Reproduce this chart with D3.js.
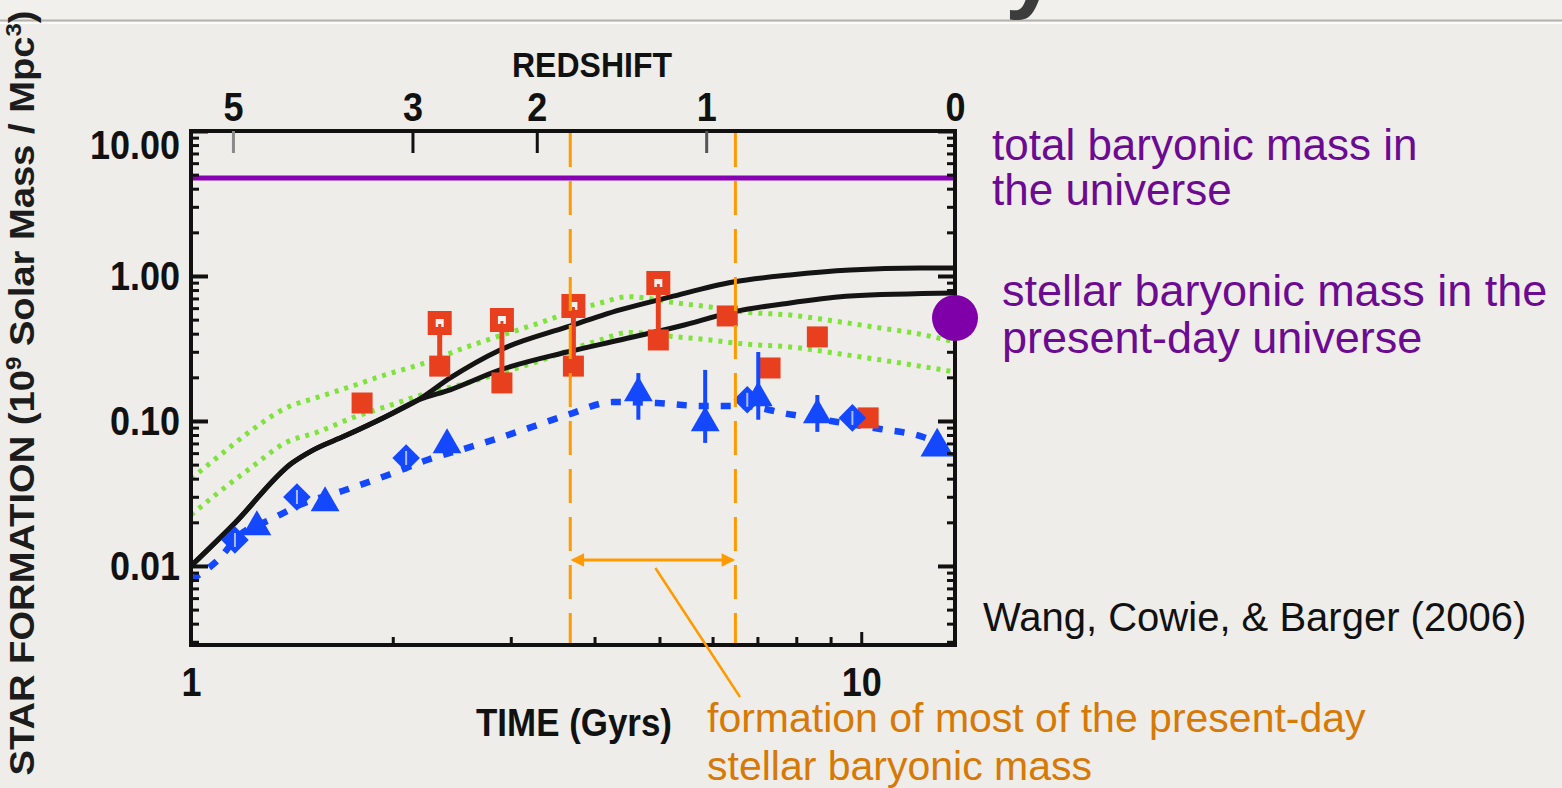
<!DOCTYPE html>
<html><head><meta charset="utf-8">
<script src="https://cdn.jsdelivr.net/npm/d3@7"></script>
<style>
html,body{margin:0;padding:0;background:#eeede9;}
svg{display:block;}
</style></head>
<body>
<svg id="chart" width="1562" height="788"></svg>
<script>
// ================= DATA =================
const timeDomain = [1, 13.8];          // Gyr
const massDomain = [0.00285, 10];      // 10^9 Msun / Mpc^3
const massTickValues = [0.01, 0.1, 1, 10];
const timeTickValues = [1, 10];
const redshiftLabels = ["5", "3", "2", "1", "0"];
const redshiftTimes = [1.155, 2.14, 3.28, 5.87, 13.8];

// black model curves [time, value]
const blackUpper = [[1.0,0.0100],[1.163,0.0198],[1.415,0.0513],[1.516,0.0625],[1.698,0.0790],[1.948,0.1066],[2.183,0.1396],[2.436,0.198],[2.892,0.309],[3.64,0.445],[4.365,0.583],[5.19,0.717],[6.44,0.909],[7.83,1.016],[9.63,1.10],[12.25,1.135],[13.8,1.135]];
const blackLower = [[1.0,0.0100],[1.163,0.0198],[1.415,0.0513],[1.516,0.0625],[1.698,0.0790],[1.948,0.1066],[2.183,0.1396],[2.436,0.164],[2.892,0.225],[3.64,0.299],[4.365,0.362],[5.37,0.452],[6.44,0.565],[7.83,0.652],[9.63,0.728],[13.8,0.763]];
// green dotted curves
const greenUpper = [[1.0,0.040],[1.097,0.0565],[1.233,0.0867],[1.381,0.122],[1.547,0.146],[1.739,0.174],[1.948,0.208],[2.183,0.243],[2.58,0.324],[3.24,0.459],[4.08,0.651],[4.5,0.72],[5.31,0.651],[5.95,0.611],[6.67,0.565],[7.83,0.538],[9.53,0.474],[10.67,0.438],[11.96,0.405],[13.8,0.351]];
const greenLower = [[1.0,0.0225],[1.097,0.0319],[1.233,0.0482],[1.381,0.0705],[1.547,0.0840],[1.739,0.105],[1.948,0.125],[2.183,0.149],[2.58,0.183],[3.24,0.251],[4.08,0.362],[4.5,0.408],[5.31,0.380],[5.95,0.362],[6.67,0.340],[7.83,0.324],[9.53,0.285],[10.67,0.264],[11.96,0.243],[13.8,0.218]];
// blue dashed curve
const blueCurve = [[1.0,0.0080],[1.097,0.0110],[1.183,0.0164],[1.312,0.0208],[1.454,0.0264],[1.698,0.0334],[1.968,0.0424],[2.25,0.0538],[2.67,0.0683],[3.13,0.0867],[3.64,0.110],[4.26,0.135],[4.96,0.133],[5.75,0.127],[6.67,0.127],[7.75,0.112],[9.21,0.0984],[10.67,0.0881],[12.37,0.0776],[13.8,0.0611]];

// red squares
const redPairTime = [2.35, 2.91, 3.72, 4.98];
const redPairUpper = [0.474, 0.497, 0.621, 0.895];   // open squares
const redPairLower = [0.239, 0.183, 0.239, 0.362];   // filled squares
const redSingleTime = [1.80, 6.31, 7.31, 8.60, 10.24];
const redSingleValue = [0.133, 0.530, 0.232, 0.380, 0.105];

// blue points
const blueDiamondTime = [1.163, 1.439, 2.094, 6.76, 9.70];
const blueDiamondValue = [0.0151, 0.0299, 0.0556, 0.140, 0.105];
const blueTriTime = [1.254, 1.585, 2.41, 4.65, 5.85, 7.02, 8.60, 12.98];
const blueTriValue = [0.0186, 0.0272, 0.0683, 0.156, 0.0969, 0.144, 0.110, 0.0662];
const blueTriErrLow = [null, null, null, 0.102, 0.0706, 0.102, 0.0841, null];
const blueTriErrHigh = [null, null, null, 0.214, 0.225, 0.299, 0.151, null];

// reference levels
const totalBaryonLevel = 4.74;
const stellarToday = [13.8, 0.513];
const formationWindow = [3.68, 6.49];

// ================= DRAWING =================
const svg = d3.select("#chart");
const W = 1562, H = 788;
const L = 191, R = 955, T = 131, B = 645;
const FONT = "'Liberation Sans', Arial, Helvetica, sans-serif";

const x = d3.scaleLog().domain(timeDomain).range([L, R]);
const y = d3.scaleLog().domain(massDomain).range([B, T]);

// background
svg.append("rect").attr("width", W).attr("height", H).attr("fill", "#eeede9");
svg.append("rect").attr("width", W).attr("height", 20).attr("fill", "#f1f0ed");
svg.append("line").attr("x1", 0).attr("x2", W).attr("y1", 20.5).attr("y2", 20.5).attr("stroke", "#b4b4ad").attr("stroke-width", 2);
svg.append("line").attr("x1", 0).attr("x2", W).attr("y1", 23).attr("y2", 23).attr("stroke", "#fbfbf9").attr("stroke-width", 2);
// cut-off slide title fragment
svg.append("text").attr("x", 1005).attr("y", 0).attr("font-family", FONT).attr("font-size", 96)
  .attr("font-weight", "bold").attr("fill", "#3c3c3c").text("y");

const defs = svg.append("defs");
defs.append("clipPath").attr("id", "plotclip").append("rect")
  .attr("x", L).attr("y", T).attr("width", R - L).attr("height", B - T);
defs.append("marker").attr("id", "ah").attr("viewBox", "0 0 10 10").attr("refX", 8).attr("refY", 5)
  .attr("markerWidth", 5).attr("markerHeight", 4.5).attr("orient", "auto-start-reverse")
  .append("path").attr("d", "M0,0 L10,5 L0,10 z").attr("fill", "#ff9a00");

const plot = svg.append("g").attr("clip-path", "url(#plotclip)");
const line = d3.line().x(d => x(d[0])).y(d => y(d[1])).curve(d3.curveMonotoneX);

// green dotted
[greenUpper, greenLower].forEach(s => {
  plot.append("path").datum(s).attr("d", line).attr("fill", "none")
    .attr("stroke", "#7ee33a").attr("stroke-width", 5).attr("stroke-dasharray", "4,6");
});
// black solid
[blackUpper, blackLower].forEach(s => {
  plot.append("path").datum(s).attr("d", line).attr("fill", "none")
    .attr("stroke", "#141414").attr("stroke-width", 5);
});
// blue dashed
plot.append("path").datum(blueCurve).attr("d", line).attr("fill", "none")
  .attr("stroke", "#1448ff").attr("stroke-width", 6.5).attr("stroke-dasharray", "10,12");

// red pairs
const RED = "#e8401e";
const RS = 21;
plot.selectAll(".redbar").data(redPairTime).join("line")
  .attr("x1", d => x(d)).attr("x2", d => x(d))
  .attr("y1", (d, i) => y(redPairUpper[i])).attr("y2", (d, i) => y(redPairLower[i]))
  .attr("stroke", RED).attr("stroke-width", 5);
plot.selectAll(".redopen").data(redPairTime).join("rect")
  .attr("x", d => x(d) - 8).attr("y", (d, i) => y(redPairUpper[i]) - 8)
  .attr("width", 16).attr("height", 16).attr("fill", "#f6f1ee").attr("stroke", RED).attr("stroke-width", 8);
plot.selectAll(".redopenstem").data(redPairTime).join("line")
  .attr("x1", d => x(d)).attr("x2", d => x(d))
  .attr("y1", (d, i) => y(redPairUpper[i]) + 1).attr("y2", (d, i) => y(redPairUpper[i]) + 10)
  .attr("stroke", RED).attr("stroke-width", 3);
plot.selectAll(".redfill").data(redPairTime).join("rect")
  .attr("x", d => x(d) - RS / 2).attr("y", (d, i) => y(redPairLower[i]) - RS / 2)
  .attr("width", RS).attr("height", RS).attr("fill", RED);
plot.selectAll(".redsingle").data(redSingleTime).join("rect")
  .attr("x", d => x(d) - RS / 2).attr("y", (d, i) => y(redSingleValue[i]) - RS / 2)
  .attr("width", RS).attr("height", RS).attr("fill", RED);

// blue markers
const BLUE = "#1448ff";
plot.selectAll(".tribar").data(blueTriTime.map((t, i) => i).filter(i => blueTriErrLow[i] !== null)).join("line")
  .attr("x1", i => x(blueTriTime[i])).attr("x2", i => x(blueTriTime[i]))
  .attr("y1", i => y(blueTriErrHigh[i])).attr("y2", i => y(blueTriErrLow[i]))
  .attr("stroke", BLUE).attr("stroke-width", 4);
plot.selectAll(".tri").data(blueTriTime).join("path")
  .attr("transform", (d, i) => `translate(${x(d)},${y(blueTriValue[i])})`)
  .attr("d", (d, i) => d3.symbol().type(d3.symbolTriangle).size(i === blueTriTime.length - 1 ? 480 : 360)())
  .attr("fill", BLUE);
plot.selectAll(".dia").data(blueDiamondTime).join("path")
  .attr("transform", (d, i) => `translate(${x(d)},${y(blueDiamondValue[i])}) rotate(45)`)
  .attr("d", d3.symbol().type(d3.symbolSquare).size(380)())
  .attr("fill", BLUE);
plot.selectAll(".diabar").data(blueDiamondTime).join("line")
  .attr("x1", d => x(d)).attr("x2", d => x(d))
  .attr("y1", (d, i) => y(blueDiamondValue[i]) - 7).attr("y2", (d, i) => y(blueDiamondValue[i]) + 7)
  .attr("stroke", "#a9bcff").attr("stroke-width", 2);

// total baryonic mass line
svg.append("line").attr("x1", x(timeDomain[0])).attr("x2", x(timeDomain[1]))
  .attr("y1", y(totalBaryonLevel)).attr("y2", y(totalBaryonLevel))
  .attr("stroke", "#8800b4").attr("stroke-width", 5);

// orange formation window
const ORANGE = "#ff9a00";
svg.selectAll(".win").data(formationWindow).join("line")
  .attr("x1", d => x(d)).attr("x2", d => x(d)).attr("y1", T + 2).attr("y2", B)
  .attr("stroke", ORANGE).attr("stroke-width", 3).attr("stroke-dasharray", "34,14");

// frame
svg.append("rect").attr("x", L).attr("y", T).attr("width", R - L).attr("height", B - T)
  .attr("fill", "none").attr("stroke", "#111").attr("stroke-width", 4);

// axes
function styleAxis(g, w) {
  g.select(".domain").remove();
  g.selectAll(".tick line").attr("stroke", "#111").attr("stroke-width", w);
  g.selectAll(".tick text").attr("font-family", FONT).attr("font-weight", "bold")
    .attr("font-size", 36).attr("fill", "#111").attr("transform", "scale(1,1.15)");
}
const isDecade = v => Math.abs(Math.log10(v) - Math.round(Math.log10(v))) < 1e-6;
const yMinor = y.ticks().filter(v => !isDecade(v));
const xMinor = x.ticks().filter(v => !isDecade(v));

const gL1 = svg.append("g").attr("transform", `translate(${L},0)`)
  .call(d3.axisLeft(y).tickValues(yMinor).tickSize(-8).tickSizeOuter(0).tickFormat(""));
styleAxis(gL1, 3);
const gL2 = svg.append("g").attr("transform", `translate(${L},0)`)
  .call(d3.axisLeft(y).tickValues(massTickValues).tickSize(-17).tickSizeOuter(0).tickPadding(11).tickFormat(d3.format(".2f")));
styleAxis(gL2, 4);
gL2.selectAll(".tick text").filter(d => d === massDomain[1]).attr("y", 12);

const gR1 = svg.append("g").attr("transform", `translate(${R},0)`)
  .call(d3.axisRight(y).tickValues(yMinor).tickSize(-8).tickSizeOuter(0).tickFormat(""));
styleAxis(gR1, 3);
const gR2 = svg.append("g").attr("transform", `translate(${R},0)`)
  .call(d3.axisRight(y).tickValues(massTickValues).tickSize(-17).tickSizeOuter(0).tickFormat(""));
styleAxis(gR2, 4);

const gB1 = svg.append("g").attr("transform", `translate(0,${B})`)
  .call(d3.axisBottom(x).tickValues(xMinor).tickSize(-8).tickSizeOuter(0).tickFormat(""));
styleAxis(gB1, 3);
const gB2 = svg.append("g").attr("transform", `translate(0,${B})`)
  .call(d3.axisBottom(x).tickValues(timeTickValues).tickSize(-13).tickSizeOuter(0).tickPadding(19).tickFormat(d3.format("d")));
styleAxis(gB2, 3);

const gT = svg.append("g").attr("transform", `translate(0,${T})`)
  .call(d3.axisTop(x).tickValues(redshiftTimes).tickSize(-22).tickSizeOuter(0).tickPadding(9)
    .tickFormat((d, i) => redshiftLabels[i]));
styleAxis(gT, 3);
gT.selectAll(".tick line").attr("stroke", (d, i) => (i === 0 ? "#8a8a8a" : i === 3 ? "#555" : "#111"));

// axis titles
function stretchedText(cx, cy, str, size, len) {
  const g = svg.append("g").attr("transform", `translate(${cx},${cy}) scale(1,1.15)`);
  g.append("text").attr("text-anchor", "middle").attr("font-family", FONT).attr("font-weight", "bold")
    .attr("font-size", size).attr("fill", "#111").attr("textLength", len).attr("lengthAdjust", "spacingAndGlyphs").text(str);
}
stretchedText(592, 77, "REDSHIFT", 31, 160);
stretchedText(574, 736, "TIME (Gyrs)", 34, 196);

const yl = svg.append("text").attr("transform", "translate(34,393) rotate(-90)")
  .attr("text-anchor", "middle").attr("font-family", FONT).attr("font-weight", "bold")
  .attr("font-size", 35).attr("fill", "#1c1c1c").attr("textLength", 765).attr("lengthAdjust", "spacingAndGlyphs");
yl.append("tspan").text("STAR FORMATION (10");
yl.append("tspan").attr("dy", -13).attr("font-size", 22).text("9");
yl.append("tspan").attr("dy", 13).text(" Solar Mass / Mpc");
yl.append("tspan").attr("dy", -13).attr("font-size", 22).text("3");
yl.append("tspan").attr("dy", 13).text(")");

// stellar mass today
svg.append("circle").attr("cx", x(stellarToday[0])).attr("cy", y(stellarToday[1])).attr("r", 23).attr("fill", "#7f00a8");

// formation arrow + leader
const arrowY = y(0.011);
svg.append("line").attr("x1", x(formationWindow[0]) + 3).attr("x2", x(formationWindow[1]) - 3)
  .attr("y1", arrowY).attr("y2", arrowY).attr("stroke", ORANGE).attr("stroke-width", 3)
  .attr("marker-start", "url(#ah)").attr("marker-end", "url(#ah)");
svg.append("line").attr("x1", x(4.93)).attr("y1", arrowY + 8).attr("x2", 740).attr("y2", 697)
  .attr("stroke", ORANGE).attr("stroke-width", 2.5);

// annotations
function textLines(xp, ys, lines, size, color) {
  lines.forEach((s, i) => svg.append("text").attr("x", xp).attr("y", ys[i]).attr("font-family", FONT)
    .attr("font-size", size).attr("fill", color).text(s));
}
textLines(992, [160, 205], ["total baryonic mass in", "the universe"], 44, "#6c0a92");
textLines(1002, [306, 353], ["stellar baryonic mass in the", "present-day universe"], 45, "#6c0a92");
textLines(983, [631], ["Wang, Cowie, & Barger (2006)"], 40, "#111");
textLines(707, [732, 780], ["formation of most of the present-day", "stellar baryonic mass"], 41, "#d77906");
</script>
</body></html>
